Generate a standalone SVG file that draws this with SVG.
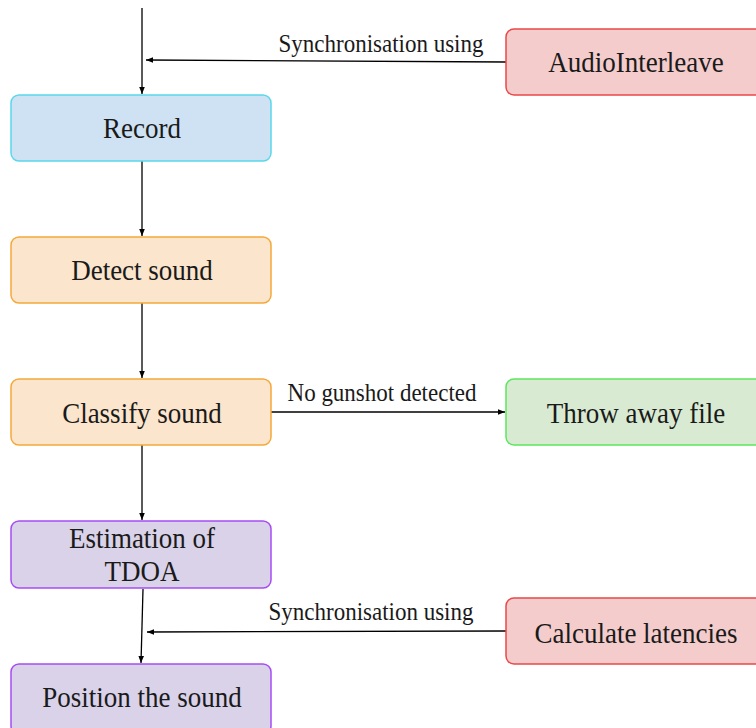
<svg xmlns="http://www.w3.org/2000/svg" width="756" height="728" viewBox="0 0 756 728">
<defs>
<marker id="arr" viewBox="0 0 10 10" refX="10" refY="5" markerWidth="7" markerHeight="7" orient="auto" markerUnits="userSpaceOnUse">
<path d="M0,1 L10,5 L0,9 z" fill="#000"/>
</marker>
<style>
.n{stroke-width:1.5}
.t{font-family:"Liberation Serif","Times New Roman",serif;font-size:27px;fill:#1a1a1a;text-anchor:middle}
.l{font-family:"Liberation Serif","Times New Roman",serif;font-size:23px;fill:#1a1a1a;text-anchor:middle}
.c{stroke:#000;stroke-width:1.3;fill:none;marker-end:url(#arr)}
.blue{fill:#cfe2f3;stroke:#5ad8ea}
.orange{fill:#fce5cd;stroke:#f4a93a}
.green{fill:#d9ead3;stroke:#5ce65c}
.red{fill:#f4cccc;stroke:#ea4848}
.purple{fill:#d9d2e9;stroke:#a64cf2}
</style>
</defs>
<rect width="756" height="728" fill="#fff"/>
<g id="connectors">
<line class="c" x1="142" y1="8" x2="142" y2="94"/>
<line class="c" x1="506" y1="62" x2="146" y2="60"/>
<line class="c" x1="142" y1="161" x2="142" y2="236"/>
<line class="c" x1="142" y1="303" x2="142" y2="378"/>
<line class="c" x1="271" y1="412" x2="505" y2="412"/>
<line class="c" x1="142" y1="445" x2="142" y2="520"/>
<line class="c" x1="143" y1="589" x2="141" y2="663"/>
<line class="c" x1="506" y1="631" x2="147" y2="632"/>
<text class="l" transform="translate(381,52) scale(1,1.1)">Synchronisation using</text>
<text class="l" transform="translate(382,401) scale(1,1.1)">No gunshot detected</text>
<text class="l" transform="translate(371,620) scale(1,1.1)">Synchronisation using</text>
</g>
<g id="record"><rect class="n blue" x="11" y="95" width="260" height="66" rx="8"/><text class="t" transform="translate(142,138) scale(1,1.1)">Record</text></g>
<g id="audiointerleave"><rect class="n red" x="506" y="29" width="262" height="66" rx="8"/><text class="t" transform="translate(636,72) scale(1,1.1)">AudioInterleave</text></g>
<g id="detect"><rect class="n orange" x="11" y="237" width="260" height="66" rx="8"/><text class="t" transform="translate(142,280) scale(1,1.1)">Detect sound</text></g>
<g id="classify"><rect class="n orange" x="11" y="379" width="260" height="66" rx="8"/><text class="t" transform="translate(142,423) scale(1,1.1)">Classify sound</text></g>
<g id="throwaway"><rect class="n green" x="506" y="379" width="262" height="66" rx="8"/><text class="t" transform="translate(636,423) scale(1,1.1)">Throw away file</text></g>
<g id="tdoa"><rect class="n purple" x="11" y="521" width="260" height="67" rx="8"/><text class="t" transform="translate(142,548) scale(1,1.1)">Estimation of</text><text class="t" transform="translate(142,581) scale(1,1.1)">TDOA</text></g>
<g id="latencies"><rect class="n red" x="506" y="598" width="262" height="66" rx="8"/><text class="t" transform="translate(636,643) scale(1,1.1)">Calculate latencies</text></g>
<g id="position"><rect class="n purple" x="11" y="664" width="260" height="70" rx="8"/><text class="t" transform="translate(142,707) scale(1,1.1)">Position the sound</text></g>
</svg>
